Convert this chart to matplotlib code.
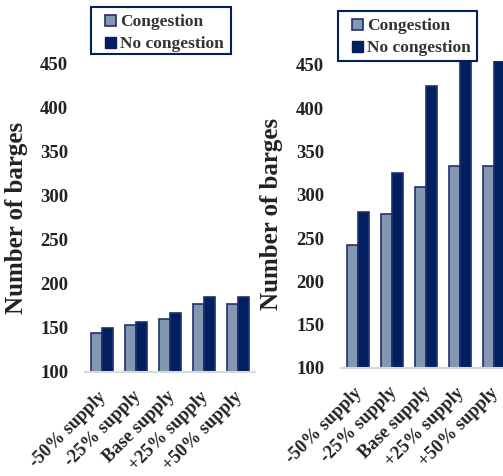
import matplotlib
matplotlib.use("Agg")
import matplotlib.pyplot as plt
from matplotlib.patches import Patch, Rectangle
import numpy as np

# Scenario labels and barge counts for the two panels
scenarios = ["-50% supply", "-25% supply", "Base supply", "+25% supply", "+50% supply"]
left_congestion = [144, 153, 160, 177, 177]
left_no_congestion = [150, 157, 167, 185, 185]
right_congestion = [242, 278, 309, 333, 333]
right_no_congestion = [280, 325, 426, 455, 455]
y_ticks = [100, 150, 200, 250, 300, 350, 400, 450]

C_CONG = "#8497B0"
C_NOCONG = "#002060"
C_EDGE = "#1F3070"

plt.rcParams["font.family"] = ["Liberation Serif", "DejaVu Serif"]
plt.rcParams["font.weight"] = "bold"

W, H = 503, 476
fig = plt.figure(figsize=(W / 100, H / 100), dpi=100)


def px_axes(x0, x1, y_top, y_base):
    return fig.add_axes([x0 / W, 1 - y_base / H, (x1 - x0) / W, (y_base - y_top) / H])


def draw_legend(box):
    x0, y0, x1, y1 = box
    fig.patches.append(Rectangle((x0 / W, 1 - y1 / H), (x1 - x0) / W, (y1 - y0) / H,
                                 transform=fig.transFigure, fill=False,
                                 edgecolor=C_NOCONG, linewidth=1.5, zorder=5))
    handles = [Patch(facecolor=C_CONG, edgecolor=C_EDGE, linewidth=1.2),
               Patch(facecolor=C_NOCONG, edgecolor=C_NOCONG)]
    leg = fig.legend(handles, ["Congestion", "No congestion"], loc="upper left",
                     bbox_to_anchor=((x0 + 9) / W, 1 - (y0 + 2) / H),
                     bbox_transform=fig.transFigure, borderaxespad=0, frameon=False,
                     prop={"weight": "bold", "size": 12.5},
                     handlelength=0.6, handleheight=0.6, handletextpad=0.25,
                     labelspacing=0.35, borderpad=0.3)
    for t in leg.get_texts():
        t.set_color("#333333")


def draw_panel(ax, cong, nocong, ylim):
    x = np.arange(len(scenarios))
    bw = 0.31
    ax.bar(x - bw / 2, cong, bw, color=C_CONG, edgecolor=C_EDGE, linewidth=1.2)
    ax.bar(x + bw / 2, nocong, bw, color=C_NOCONG, edgecolor=C_EDGE, linewidth=1.2)
    ax.set_xlim(-0.5, len(scenarios) - 0.5)
    ax.set_ylim(*ylim)
    ax.set_yticks(y_ticks)
    ax.set_xticks(x)
    ax.set_xticklabels([])
    # category names, rotated and anchored just below each group
    for xi, name in zip(x, scenarios):
        ax.annotate(name, xy=(xi, 0), xycoords=ax.get_xaxis_transform(),
                    xytext=(-4, -16), textcoords="offset pixels",
                    rotation=45, ha="right", va="top", rotation_mode="anchor",
                    fontsize=13.2, fontweight="bold", color="#222222",
                    annotation_clip=False)
    ax.tick_params(axis="y", length=0, pad=12, labelsize=13.5, labelcolor="#222222")
    ax.tick_params(axis="x", length=0)
    for lab in ax.get_yticklabels():
        lab.set_fontweight("bold")
    for s in ("top", "right", "left"):
        ax.spines[s].set_visible(False)
    ax.spines["bottom"].set_color("#D9D9D9")
    ax.spines["bottom"].set_linewidth(1.5)
    ax.set_ylabel("Number of barges", fontsize=18, fontweight="bold", color="#222222")


ax1 = px_axes(85, 255, 63, 372)
draw_panel(ax1, left_congestion, left_no_congestion, (100, 450))
ax1.yaxis.set_label_coords(-0.335, 0.5)
draw_legend((91, 7, 231, 54))

ax2 = px_axes(341, 511, 60.6, 368)
draw_panel(ax2, right_congestion, right_no_congestion, (100, 455))
ax2.yaxis.set_label_coords(-0.34, 0.5)
draw_legend((338, 11, 477, 61))

fig.savefig("out.png", dpi=100)
